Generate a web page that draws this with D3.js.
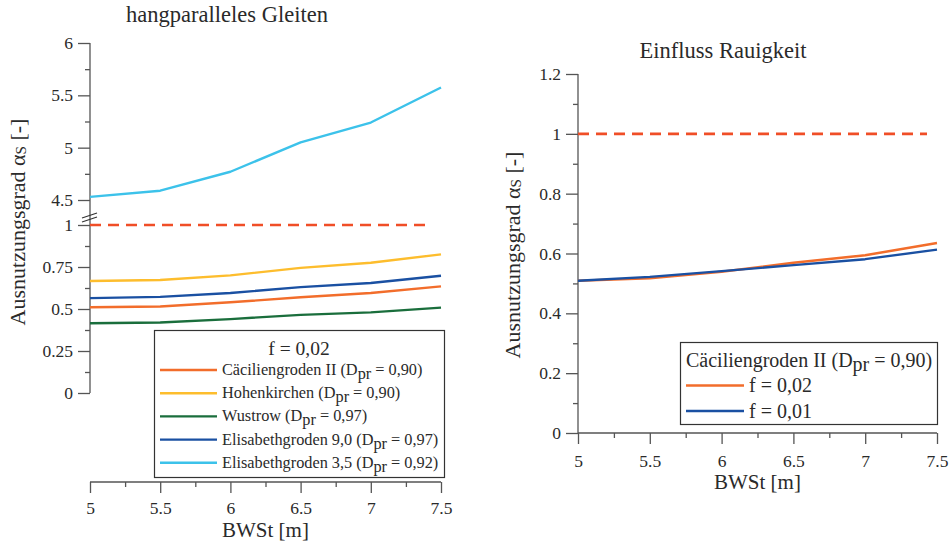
<!DOCTYPE html>
<html>
<head>
<meta charset="utf-8">
<script src="https://cdn.jsdelivr.net/npm/d3@7"></script>
</head>
<body style="margin:0; background:#fff">
<svg id="chart" width="952" height="541"></svg>
<script>
const bwst = [5, 5.5, 6, 6.5, 7, 7.5];

// left chart: hangparalleles Gleiten, f = 0,02
const caecilien = [0.51, 0.515, 0.54, 0.57, 0.595, 0.635];
const hohenkirchen = [0.667, 0.673, 0.7, 0.745, 0.775, 0.825];
const wustrow = [0.415, 0.42, 0.44, 0.465, 0.48, 0.508];
const elisabeth90 = [0.565, 0.572, 0.595, 0.63, 0.655, 0.698];
const elisabeth35 = [4.53, 4.589, 4.77, 5.05, 5.24, 5.575];

// right chart: Einfluss Rauigkeit
const f002 = [0.509, 0.517, 0.539, 0.569, 0.594, 0.635];
const f001 = [0.509, 0.522, 0.541, 0.561, 0.581, 0.613];

const leftSeries = [
  { name: "Cäciliengroden II", dpr: "0,90", color: "#f26d2b", values: caecilien, upper: false },
  { name: "Hohenkirchen", dpr: "0,90", color: "#fdbd2d", values: hohenkirchen, upper: false },
  { name: "Wustrow", dpr: "0,97", color: "#1a6e3c", values: wustrow, upper: false },
  { name: "Elisabethgroden 9,0", dpr: "0,97", color: "#1a50a2", values: elisabeth90, upper: false },
  { name: "Elisabethgroden 3,5", dpr: "0,92", color: "#3cc2ea", values: elisabeth35, upper: true }
];
const rightSeries = [
  { name: "f = 0,02", color: "#f26d2b", values: f002 },
  { name: "f = 0,01", color: "#1a50a2", values: f001 }
];

const axisColor = "#555";
const limitColor = "#f04e27";
const font = "'Liberation Serif'";
const svg = d3.select("#chart");

function styleAxis(g) {
  g.attr("font-family", null);
  g.select(".domain").remove();
  g.selectAll("line").attr("stroke", axisColor).attr("stroke-width", 1.3);
  g.selectAll("text").attr("font-size", 17.5);
}

function yTicks(g, scale, x, major, minor) {
  g.append("g")
    .attr("transform", `translate(${x},0)`)
    .call(d3.axisLeft(scale).tickValues(major).tickSize(12).tickPadding(5).tickFormat(d3.format("~g")))
    .call(styleAxis);
  g.append("g")
    .attr("transform", `translate(${x},0)`)
    .call(d3.axisLeft(scale).tickValues(minor).tickSize(5).tickFormat(""))
    .call(styleAxis);
}

function xAxis(g, scale, y, pad) {
  const ax = g.append("g").attr("transform", `translate(0,${y})`);
  ax.append("g")
    .call(d3.axisBottom(scale).tickValues(bwst).tickSize(11).tickPadding(pad).tickFormat(d3.format("~g")))
    .call(styleAxis);
  ax.append("g")
    .call(d3.axisBottom(scale).tickValues(d3.range(5.25, 7.5, 0.5)).tickSize(5).tickFormat(""))
    .call(styleAxis);
  ax.append("line")
    .attr("x1", scale.range()[0]).attr("x2", scale.range()[1])
    .attr("stroke", axisColor).attr("stroke-width", 1.3);
}

function yLabel(g, x, y) {
  const t = g.append("text")
    .attr("transform", `translate(${x},${y}) rotate(-90)`)
    .attr("text-anchor", "middle")
    .attr("font-size", 22);
  t.append("tspan").text("Ausnutzungsgrad α");
  t.append("tspan").attr("font-size", 15).attr("dy", 1).text("S");
  t.append("tspan").attr("dy", -1).text(" [-]");
}

function dprText(sel, name, dpr) {
  sel.append("tspan").text(`${name} (D`);
  sel.append("tspan").attr("dy", 4).text("pr");
  sel.append("tspan").attr("dy", -4).text(` = ${dpr})`);
}

// ---------- left chart ----------
const gl = svg.append("g");
const xL = d3.scaleLinear().domain([5, 7.5]).range([90, 441]);
const yUp = d3.scaleLinear().domain([4.5, 6]).range([200, 43]);
const yLo = d3.scaleLinear().domain([0, 1]).range([393, 225]);

gl.append("line")
  .attr("x1", xL(5)).attr("x2", xL(5))
  .attr("y1", yUp(6)).attr("y2", yLo(0))
  .attr("stroke", axisColor).attr("stroke-width", 1.3);
yTicks(gl, yUp, xL(5), [4.5, 5, 5.5, 6], [4.75, 5.25, 5.75]);
yTicks(gl, yLo, xL(5), [0, 0.25, 0.5, 0.75, 1], [0.125, 0.375, 0.625, 0.875]);

// axis break marks
[0, 4].forEach((o) => {
  gl.append("line")
    .attr("x1", 82).attr("y1", 218 + o)
    .attr("x2", 97).attr("y2", 213 + o)
    .attr("stroke", "#333").attr("stroke-width", 1.2);
});

xAxis(gl, xL, 482, 9);

gl.append("line")
  .attr("x1", xL(5)).attr("x2", 430)
  .attr("y1", yLo(1)).attr("y2", yLo(1))
  .attr("stroke", limitColor).attr("stroke-width", 2.6)
  .attr("stroke-dasharray", "11,7");

const lineL = (s) => d3.line()
  .x((d, i) => xL(bwst[i]))
  .y((d) => (s.upper ? yUp(d) : yLo(d)))(s.values);

gl.selectAll(".series")
  .data(leftSeries)
  .join("path")
  .attr("d", lineL)
  .attr("fill", "none")
  .attr("stroke", (d) => d.color)
  .attr("stroke-width", 2.4)
  .attr("stroke-linejoin", "round");

gl.append("text")
  .attr("x", 227).attr("y", 22)
  .attr("text-anchor", "middle")
  .attr("font-size", 22.5)
  .text("hangparalleles Gleiten");
yLabel(gl, 25, 222);
gl.append("text")
  .attr("x", (xL(5) + xL(7.5)) / 2).attr("y", 537)
  .attr("text-anchor", "middle")
  .attr("font-size", 21)
  .text("BWSt [m]");

const legL = gl.append("g");
legL.append("rect")
  .attr("x", 154.5).attr("y", 330.5)
  .attr("width", 290).attr("height", 147)
  .attr("fill", "#fff").attr("stroke", "#333").attr("stroke-width", 1.2);
legL.append("text")
  .attr("x", 299).attr("y", 355)
  .attr("text-anchor", "middle")
  .attr("font-size", 19.5)
  .text("f = 0,02");
leftSeries.forEach((s, i) => {
  const y = 370 + i * 23.2;
  legL.append("line")
    .attr("x1", 160).attr("x2", 217)
    .attr("y1", y).attr("y2", y)
    .attr("stroke", s.color).attr("stroke-width", 2.4);
  legL.append("text")
    .attr("x", 222).attr("y", y + 5)
    .attr("font-size", 16.3)
    .call(dprText, s.name, s.dpr);
});

// ---------- right chart ----------
const gr = svg.append("g");
const xR = d3.scaleLinear().domain([5, 7.5]).range([578, 937]);
const yR = d3.scaleLinear().domain([0, 1.2]).range([433, 74]);

gr.append("line")
  .attr("x1", xR(5)).attr("x2", xR(5))
  .attr("y1", yR(1.2)).attr("y2", yR(0))
  .attr("stroke", axisColor).attr("stroke-width", 1.3);
yTicks(gr, yR, xR(5), [0, 0.2, 0.4, 0.6, 0.8, 1, 1.2], [0.1, 0.3, 0.5, 0.7, 0.9, 1.1]);
xAxis(gr, xR, yR(0), 11);

gr.append("line")
  .attr("x1", xR(5)).attr("x2", 927)
  .attr("y1", yR(1)).attr("y2", yR(1))
  .attr("stroke", limitColor).attr("stroke-width", 2.6)
  .attr("stroke-dasharray", "11,7");

const lineR = d3.line()
  .x((d, i) => xR(bwst[i]))
  .y((d) => yR(d));

gr.selectAll(".series")
  .data(rightSeries)
  .join("path")
  .attr("d", (d) => lineR(d.values))
  .attr("fill", "none")
  .attr("stroke", (d) => d.color)
  .attr("stroke-width", 2.4)
  .attr("stroke-linejoin", "round");

gr.append("text")
  .attr("x", 723).attr("y", 58)
  .attr("text-anchor", "middle")
  .attr("font-size", 22.5)
  .text("Einfluss Rauigkeit");
yLabel(gr, 520, 255);
gr.append("text")
  .attr("x", (xR(5) + xR(7.5)) / 2).attr("y", 489)
  .attr("text-anchor", "middle")
  .attr("font-size", 21)
  .text("BWSt [m]");

const legR = gr.append("g");
legR.append("rect")
  .attr("x", 680.5).attr("y", 342.5)
  .attr("width", 257).attr("height", 82)
  .attr("fill", "#fff").attr("stroke", "#333").attr("stroke-width", 1.2);
legR.append("text")
  .attr("x", 686).attr("y", 367)
  .attr("font-size", 20)
  .call(dprText, "Cäciliengroden II", "0,90");
rightSeries.forEach((s, i) => {
  const y = 385.5 + i * 25.5;
  legR.append("line")
    .attr("x1", 686).attr("x2", 744)
    .attr("y1", y).attr("y2", y)
    .attr("stroke", s.color).attr("stroke-width", 2.4);
  legR.append("text")
    .attr("x", 749).attr("y", y + 6.5)
    .attr("font-size", 20)
    .text(s.name);
});

// serif everywhere, like the original figure
svg.selectAll("text, tspan")
  .attr("font-family", "Liberation Serif")
  .style("font-family", font)
  .attr("fill", "#2a2a2a");
</script>
</body>
</html>
